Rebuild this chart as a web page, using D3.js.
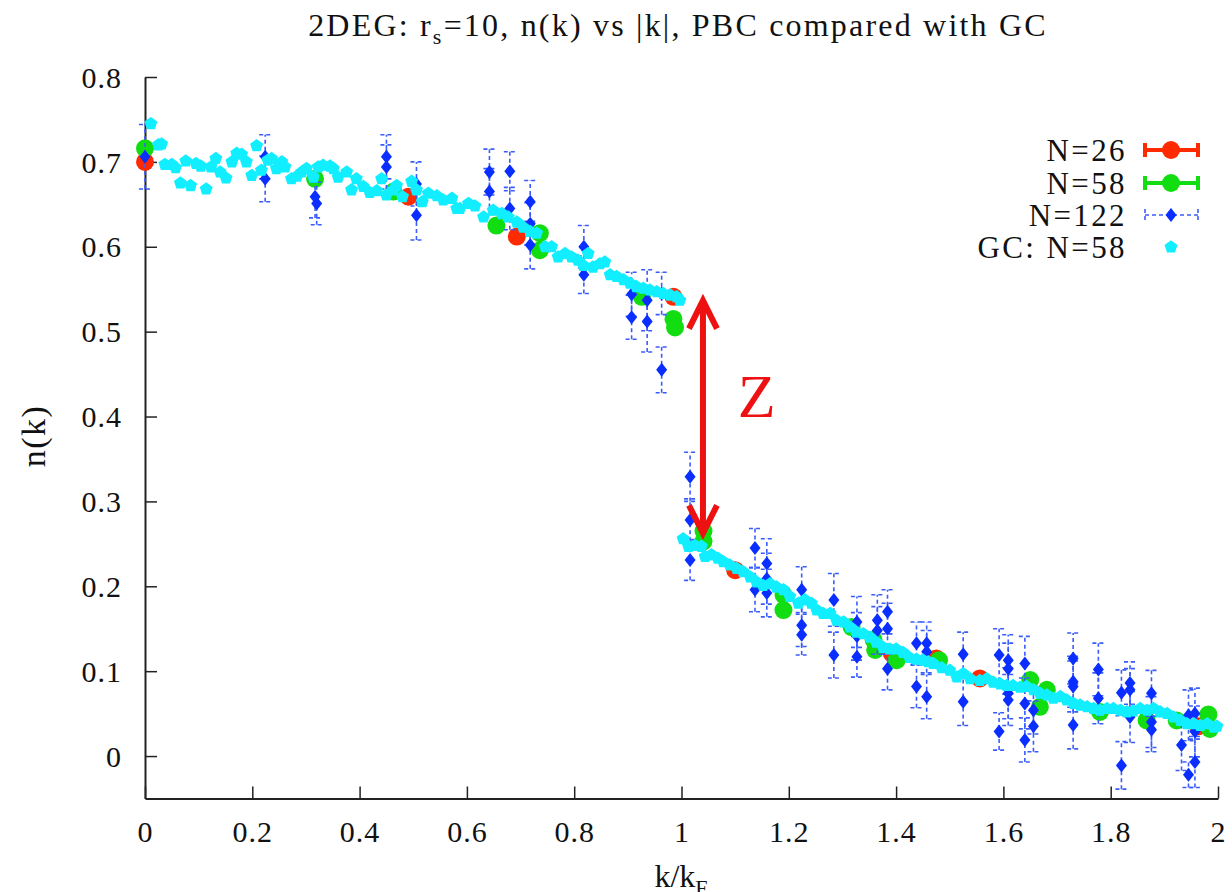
<!DOCTYPE html>
<html><head><meta charset="utf-8">
<script src="https://cdn.jsdelivr.net/npm/d3@7"></script>
<style>body{margin:0;background:#fff}svg{display:block}</style>
</head><body>
<svg id="c" width="1232" height="892"></svg>
<script>
// ---------- data ----------
const titleMain = "2DEG: r";
const titleSub = "s";
const titleRest = "=10, n(k) vs |k|, PBC compared with GC";
const xLabel = "k/k";
const xLabelSub = "F";
const yLabel = "n(k)";
const xTicks = [0,0.2,0.4,0.6,0.8,1,1.2,1.4,1.6,1.8,2];
const xTickLabels = ["0","0.2","0.4","0.6","0.8","1","1.2","1.4","1.6","1.8","2"];
const yTicks = [0,0.1,0.2,0.3,0.4,0.5,0.6,0.7,0.8];
const yTickLabels = ["0","0.1","0.2","0.3","0.4","0.5","0.6","0.7","0.8"];
const seriesNames = ["N=26","N=58","N=122","GC: N=58"];

const n26K = [0,0.491,0.693,0.985,1.100,1.392,1.475,1.556,1.963];
const n26V = [0.700,0.659,0.612,0.541,0.219,0.121,0.115,0.0915,0.035];

const n58K = [0,0.317,0.463,0.655,0.736,0.736,0.926,0.985,0.988,1.041,1.041,1.190,1.190,1.317,1.358,1.361,1.401,1.480,1.650,1.668,1.681,1.780,1.867,1.923,1.982,1.985];
const n58V = [0.716,0.680,0.665,0.625,0.616,0.596,0.541,0.515,0.505,0.265,0.253,0.190,0.172,0.152,0.137,0.125,0.113,0.113,0.0895,0.058,0.078,0.052,0.042,0.042,0.049,0.032];

const n122K = [0,0.224,0.224,0.317,0.320,0.450,0.450,0.506,0.506,0.642,0.642,0.680,0.680,0.718,0.718,0.718,0.818,0.818,0.907,0.907,0.936,0.936,0.963,0.963,
 1.016,1.016,1.016,1.137,1.137,1.159,1.159,1.159,1.224,1.224,1.224,1.284,1.284,1.327,1.327,1.327,1.365,1.365,1.384,1.384,1.384,1.438,1.438,1.457,1.457,1.457,
 1.525,1.525,1.592,1.592,1.609,1.609,1.609,1.609,1.640,1.640,1.640,1.656,1.656,1.730,1.730,1.730,1.730,1.777,1.777,1.820,1.820,1.836,1.836,1.836,1.876,1.876,1.876,
 1.932,1.945,1.945,1.957,1.957,1.957];
const n122V = [0.706,0.706,0.680,0.659,0.651,0.706,0.694,0.674,0.637,0.688,0.665,0.689,0.645,0.653,0.627,0.602,0.600,0.567,0.544,0.517,0.537,0.512,0.455,0.545,
 0.329,0.278,0.231,0.245,0.196,0.227,0.209,0.192,0.196,0.154,0.143,0.184,0.119,0.158,0.141,0.117,0.160,0.148,0.170,0.150,0.103,0.133,0.082,0.133,0.123,0.070,
 0.120,0.064,0.119,0.029,0.113,0.103,0.074,0.066,0.109,0.062,0.019,0.054,0.035,0.115,0.0875,0.082,0.0365,0.102,0.068,-0.011,0.0745,0.086,0.078,0.046,0.074,0.040,0.031,
 0.013,-0.022,0.048,0.050,0.029,-0.007];
const n122E = [0.038,0.026,0.027,0.025,0.025,0.026,0.026,0.026,0.029,0.027,0.027,0.023,0.025,0.025,0.025,0.028,0.025,0.022,0.026,0.026,0.036,0.036,0.027,0.025,
 0.029,0.025,0.024,0.023,0.026,0.029,0.030,0.028,0.027,0.025,0.024,0.031,0.027,0.030,0.028,0.024,0.030,0.028,0.026,0.030,0.025,0.025,0.025,0.025,0.025,0.026,
 0.026,0.028,0.031,0.022,0.030,0.030,0.030,0.030,0.032,0.030,0.026,0.028,0.030,0.030,0.030,0.030,0.028,0.031,0.030,0.028,0.027,0.025,0.025,0.030,0.027,0.030,0.026,
 0.030,0.015,0.030,0.030,0.030,0.030];

const gcK = [0.011,0.025,0.031,0.037,0.050,0.057,0.066,0.076,0.085,0.095,0.104,0.114,0.123,0.132,0.140,0.151,0.162,0.171,0.180,0.189,0.199,0.208,0.217,0.229,0.236,0.245,0.255,0.261,0.273,0.283,0.292,0.301,0.314,0.323,0.332,0.345,0.351,0.360,0.376,0.385,0.394,0.407,0.419,0.432,0.441,0.450,0.463,0.469,0.480,0.497,0.506,0.517,0.528,0.544,0.556,0.572,0.581,0.587,0.603,0.615,0.631,0.649,0.665,0.677,0.693,0.705,0.718,0.730,0.746,0.758,0.770,0.783,0.795,0.807,0.817,0.826,0.835,0.848,0.857,0.867,0.879,0.892,0.904,0.916,0.929,0.941,0.954,0.966,0.979,0.991,0.997,
 1.003,1.013,1.025,1.037,1.044,1.056,1.068,1.078,1.090,1.103,1.115,1.128,1.140,1.152,1.165,1.177,1.190,1.202,1.218,1.230,1.242,1.252,1.264,1.277,1.289,1.302,1.314,1.326,1.339,1.351,1.363,1.376,1.388,1.400,1.413,1.425,1.438,1.450,1.460,
 1.469,1.485,1.500,1.513,1.525,1.538,1.556,1.569,1.581,1.594,1.606,1.618,1.631,1.643,1.656,1.668,1.681,1.693,1.706,1.718,1.731,1.743,1.756,1.768,1.780,1.793,1.805,1.818,1.830,1.842,1.855,1.868,1.880,1.892,1.905,1.917,1.930,1.942,1.955,1.967,1.980,1.992,1.998];
const gcV = [0.745,0.720,0.721,0.697,0.697,0.693,0.675,0.701,0.672,0.698,0.695,0.668,0.694,0.704,0.688,0.681,0.700,0.710,0.709,0.700,0.684,0.719,0.690,0.702,0.704,0.692,0.700,0.694,0.680,0.683,0.688,0.692,0.682,0.694,0.696,0.695,0.692,0.682,0.688,0.667,0.680,0.671,0.664,0.666,0.680,0.661,0.667,0.672,0.659,0.677,0.667,0.653,0.663,0.660,0.655,0.657,0.645,0.645,0.651,0.648,0.635,0.643,0.639,0.635,0.629,0.623,0.618,0.616,0.600,0.600,0.588,0.592,0.588,0.584,0.578,0.592,0.576,0.580,0.582,0.567,0.565,0.561,0.557,0.553,0.551,0.549,0.547,0.545,0.543,0.541,0.537,
 0.256,0.247,0.248,0.247,0.235,0.237,0.233,0.229,0.225,0.221,0.217,0.211,0.205,0.201,0.203,0.199,0.196,0.188,0.180,0.184,0.180,0.172,0.168,0.168,0.160,0.158,0.152,0.146,0.144,0.140,0.134,0.128,0.126,0.126,0.122,0.116,0.114,0.113,0.111,
 0.109,0.104,0.101,0.093,0.097,0.091,0.089,0.091,0.087,0.085,0.083,0.083,0.081,0.082,0.078,0.074,0.072,0.068,0.070,0.066,0.062,0.060,0.058,0.056,0.054,0.056,0.056,0.054,0.052,0.053,0.056,0.054,0.056,0.052,0.050,0.046,0.042,0.038,0.038,0.036,0.038,0.034,0.035];

// Z annotation arrow (k/kF, from n, to n)
const arrowK = 1.04, arrowLow = 0.26, arrowHigh = 0.539;
const zLabel = "Z", zLabelK = 1.14, zLabelV = 0.40;

// ---------- drawing ----------
const FONT = "'Liberation Serif', 'DejaVu Serif', serif";
const C = {red:"#ff2a00", green:"#11dd11", blue:"#0a2eff", bar:"#3a5cff", cyan:"#11eeff", arrow:"#ee1111"};
const svg = d3.select("#c");
const x = d3.scaleLinear().domain([0,2]).range([145,1218]);
const y = d3.scaleLinear().domain([-0.05,0.8]).range([798.5,77]);

// title
const t = svg.append("text").attr("x",678).attr("y",36).attr("text-anchor","middle")
  .attr("font-family",FONT).attr("font-size",32).attr("letter-spacing",2.2).attr("fill","#111");
t.append("tspan").text(titleMain);
t.append("tspan").attr("font-size",22).attr("dy",8).text(titleSub);
t.append("tspan").attr("dy",-8).text(titleRest);

// axes
const ax = svg.append("g").attr("transform",`translate(${x(0)},0)`)
  .call(d3.axisLeft(y).tickValues(yTicks).tickFormat((d,i)=>yTickLabels[i]).tickSizeInner(-12).tickSizeOuter(0).tickPadding(23));
const bx = svg.append("g").attr("transform",`translate(0,${y(-0.05)})`)
  .call(d3.axisBottom(x).tickValues(xTicks).tickFormat((d,i)=>xTickLabels[i]).tickSizeInner(-12).tickSizeOuter(0).tickPadding(33));
[ax,bx].forEach(g=>{
  g.selectAll("path.domain").attr("stroke","#222").attr("stroke-width",2);
  g.selectAll(".tick line").attr("stroke","#222").attr("stroke-width",1.5);
  g.selectAll("text").attr("font-family",FONT).attr("font-size",30).attr("letter-spacing",1).attr("fill","#111");
});
ax.selectAll("text").attr("dy","0.34em");
bx.selectAll("text").attr("dy","0.34em");

// axis labels
const xl = svg.append("text").attr("x",681).attr("y",887).attr("text-anchor","middle")
  .attr("font-family",FONT).attr("font-size",32).attr("fill","#111");
xl.append("tspan").text(xLabel);
xl.append("tspan").attr("font-size",22).attr("dy",8).text(xLabelSub);
svg.append("text").attr("transform","translate(45,436) rotate(-90)").attr("text-anchor","middle")
  .attr("font-family",FONT).attr("font-size",34).attr("letter-spacing",1.5).attr("fill","#111").text(yLabel);

// helpers
const zipd = (K,V,E)=>K.map((k,i)=>({k, v:V[i], e:E?E[i]:0}));
const pent = r => { const p=[]; for(let i=0;i<5;i++){const a=-Math.PI/2+i*2*Math.PI/5; p.push([r*Math.cos(a), r*Math.sin(a)]);} return "M"+p.map(q=>q.join(",")).join("L")+"Z"; };
const diamond = (w,h) => `M0,${-h}L${w},0L0,${h}L${-w},0Z`;

const plot = svg.append("g");
// N=26
plot.append("g").selectAll("circle").data(zipd(n26K,n26V)).join("circle")
  .attr("cx",d=>x(d.k)).attr("cy",d=>y(d.v)).attr("r",9).attr("fill",C.red);
// N=58
plot.append("g").selectAll("circle").data(zipd(n58K,n58V)).join("circle")
  .attr("cx",d=>x(d.k)).attr("cy",d=>y(d.v)).attr("r",9).attr("fill",C.green);
// N=122 with error bars
const b = zipd(n122K,n122V,n122E);
const eb = plot.append("g").attr("stroke",C.bar).attr("stroke-width",1.6).attr("stroke-dasharray","4,3").attr("fill","none");
eb.selectAll("line.v").data(b).join("line").attr("class","v")
  .attr("x1",d=>x(d.k)).attr("x2",d=>x(d.k)).attr("y1",d=>y(d.v-d.e)).attr("y2",d=>y(d.v+d.e));
eb.selectAll("line.t").data(b).join("line").attr("class","t")
  .attr("x1",d=>x(d.k)-6).attr("x2",d=>x(d.k)+6).attr("y1",d=>y(d.v+d.e)).attr("y2",d=>y(d.v+d.e));
eb.selectAll("line.b").data(b).join("line").attr("class","b")
  .attr("x1",d=>x(d.k)-6).attr("x2",d=>x(d.k)+6).attr("y1",d=>y(d.v-d.e)).attr("y2",d=>y(d.v-d.e));
plot.append("g").selectAll("path").data(b).join("path")
  .attr("transform",d=>`translate(${x(d.k)},${y(d.v)})`).attr("d",diamond(5.5,7)).attr("fill",C.blue);
// GC
plot.append("g").selectAll("path").data(zipd(gcK,gcV)).join("path")
  .attr("transform",d=>`translate(${x(d.k)},${y(d.v)})`).attr("d",pent(6.8)).attr("fill",C.cyan);

// Z arrow
const ar = svg.append("g").attr("stroke",C.arrow).attr("stroke-width",6).attr("fill","none").attr("stroke-linecap","butt");
const ax0 = x(arrowK), yTop = y(arrowHigh), yBot = y(arrowLow);
ar.append("line").attr("x1",ax0).attr("x2",ax0).attr("y1",yTop+3).attr("y2",yBot-3);
ar.append("path").attr("d",`M${ax0-14},${yTop+30}L${ax0},${yTop+2}L${ax0+14},${yTop+30}`);
ar.append("path").attr("d",`M${ax0-14},${yBot-30}L${ax0},${yBot-2}L${ax0+14},${yBot-30}`);
svg.append("text").attr("x",x(zLabelK)).attr("y",y(zLabelV)).attr("text-anchor","middle")
  .attr("font-family",FONT).attr("font-size",62).attr("fill",C.arrow).text(zLabel);

// legend
const lg = svg.append("g");
const lx1 = 1145, lx2 = 1198, lxm = 1171;
const ly = [150,183,215,247];
seriesNames.forEach((n,i)=>{
  lg.append("text").attr("x",1127).attr("y",ly[i]).attr("dy","0.35em").attr("text-anchor","end")
    .attr("font-family",FONT).attr("font-size",31).attr("letter-spacing",2.4).attr("fill","#111").text(n);
});
[[C.red,0],[C.green,1]].forEach(([c,i])=>{
  const g = lg.append("g").attr("stroke",c).attr("stroke-width",4);
  g.append("line").attr("x1",lx1).attr("x2",lx2).attr("y1",ly[i]).attr("y2",ly[i]);
  g.append("line").attr("x1",lx1).attr("x2",lx1).attr("y1",ly[i]-7).attr("y2",ly[i]+7);
  g.append("line").attr("x1",lx2).attr("x2",lx2).attr("y1",ly[i]-7).attr("y2",ly[i]+7);
  lg.append("circle").attr("cx",lxm).attr("cy",ly[i]).attr("r",9).attr("fill",c);
});
{
  const g = lg.append("g").attr("stroke",C.bar).attr("stroke-width",1.6).attr("stroke-dasharray","4,3");
  g.append("line").attr("x1",lx1).attr("x2",lx2).attr("y1",ly[2]).attr("y2",ly[2]);
  g.append("line").attr("x1",lx1).attr("x2",lx1).attr("y1",ly[2]-6).attr("y2",ly[2]+6);
  g.append("line").attr("x1",lx2).attr("x2",lx2).attr("y1",ly[2]-6).attr("y2",ly[2]+6);
  lg.append("path").attr("transform",`translate(${lxm},${ly[2]})`).attr("d",diamond(5.5,7)).attr("fill",C.blue);
  lg.append("path").attr("transform",`translate(${lxm},${ly[3]})`).attr("d",pent(6.8)).attr("fill",C.cyan);
}
</script>
</body></html>
